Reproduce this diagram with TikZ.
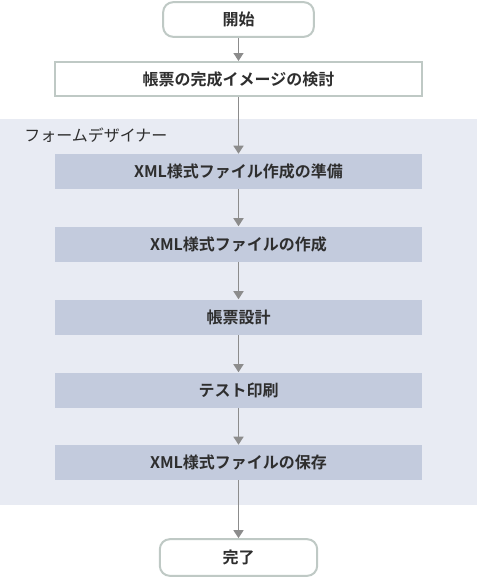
\documentclass[tikz,border=0pt]{standalone}
\usepackage{fontspec}
\newfontfamily\cjk{Noto Sans CJK JP}
\newfontfamily\cjkb{Noto Sans CJK JP Bold}
\usetikzlibrary{arrows.meta}
\definecolor{bgc}{HTML}{E8EBF3}
\definecolor{boxc}{HTML}{C3CBDD}
\definecolor{bordc}{HTML}{BFC9C5}
\definecolor{arrc}{HTML}{8C8C8C}
\definecolor{txtc}{HTML}{2E2E2E}
\tikzset{
  termbox/.style={draw=bordc, line width=1.5pt, fill=white, rounded corners=7.5pt,
    minimum width=113pt, minimum height=26pt, inner sep=0pt, text=txtc, font=\cjkb\fontsize{12pt}{14pt}\selectfont},
  whitebox/.style={draw=bordc, line width=1.5pt, fill=white,
    minimum width=275pt, minimum height=25.5pt, inner sep=0pt, text=txtc, font=\cjkb\fontsize{12pt}{14pt}\selectfont},
  procbox/.style={fill=boxc, minimum width=275.25pt, minimum height=26.25pt, inner sep=0pt, text=txtc, font=\cjkb\fontsize{12pt}{14pt}\selectfont},
  flow/.style={draw=arrc, line width=1.1pt, -{Triangle[width=7.5pt,length=6pt]}},
}
\begin{document}
\begin{tikzpicture}[x=0.75pt,y=-0.75pt]
\useasboundingbox (0,0) rectangle (477,578);
\fill[bgc] (0,119) rectangle (477,505);
\node[anchor=west, text=txtc, font=\cjk\fontsize{12pt}{14pt}\selectfont, inner sep=0pt] (lane) at (24,135) {フォームデザイナー};
\node[termbox] (start) at (238.5,19.5) {開始};
\node[whitebox] (s1) at (238.5,79) {帳票の完成イメージの検討};
\node[procbox] (p1) at (238.5,171.5) {XML様式ファイル作成の準備};
\node[procbox] (p2) at (238.5,244) {XML様式ファイルの作成};
\node[procbox] (p3) at (238.5,317) {帳票設計};
\node[procbox] (p4) at (238.5,390) {テスト印刷};
\node[procbox] (p5) at (238.5,462.5) {XML様式ファイルの保存};
\node[termbox, minimum width=118pt, minimum height=27.5pt] (end) at (238.5,557.5) {完了};
\draw[flow] (start) -- (s1);
\draw[flow] (s1) -- (p1);
\draw[flow] (p1) -- (p2);
\draw[flow] (p2) -- (p3);
\draw[flow] (p3) -- (p4);
\draw[flow] (p4) -- (p5);
\draw[flow] (p5) -- (end);
\end{tikzpicture}
\end{document}
